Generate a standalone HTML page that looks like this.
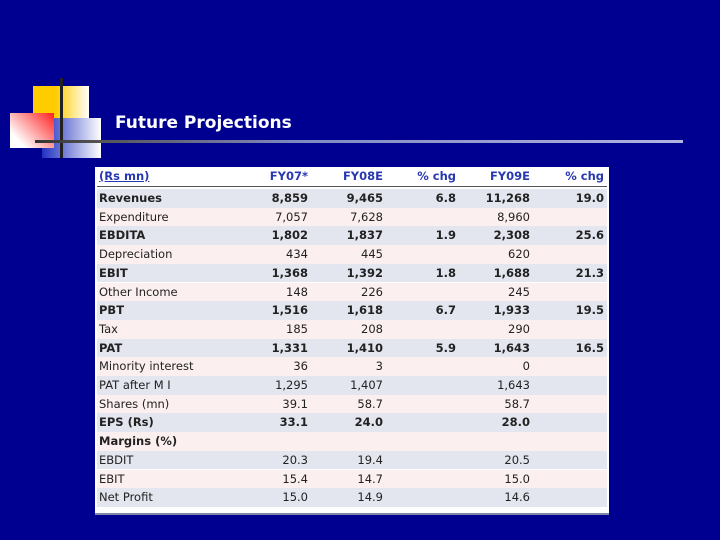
<!DOCTYPE html>
<html><head><meta charset="utf-8"><style>
body{margin:0;width:720px;height:540px;background:#000090;position:relative;overflow:hidden;font-family:"DejaVu Sans","Liberation Sans",sans-serif}
.abs{position:absolute}
#tbl{left:95px;top:167px;width:514px;height:346px;background:#fff;border-bottom:2px solid #8088a8}
.row{position:absolute;left:2px;width:510px;height:18.7px;font-size:11.5px;color:#222}
.row span{position:absolute;top:2px}
.num{text-align:right;width:70px}
</style></head><body>
<div class="abs" style="left:33px;top:86px;width:56px;height:40px;background:linear-gradient(90deg,#ffcc00 40%,#fff 100%)"></div>
<div class="abs" style="left:42px;top:118px;width:59px;height:40px;background:linear-gradient(90deg,#2030c0,#fff)"></div>
<div class="abs" style="left:10px;top:113px;width:44px;height:35px;background:linear-gradient(225deg,#ff2020,#fff 80%)"></div>
<div class="abs" style="left:60px;top:78px;width:3px;height:80px;background:#222"></div>
<div class="abs" style="left:35px;top:140px;width:648px;height:3px;background:linear-gradient(90deg,#333 0%,#555 10%,#8088c0 40%,#b0b4e0 100%)"></div>
<div class="abs" style="left:115px;top:113px;color:#fff;font-weight:bold;font-size:17px">Future Projections</div>
<div id="tbl" class="abs"></div>
<script>
const labels=["Revenues","Expenditure","EBDITA","Depreciation","EBIT","Other Income","PBT","Tax","PAT","Minority interest","PAT after M I","Shares (mn)","EPS (Rs)","Margins (%)","EBDIT","EBIT","Net Profit"];
const bold=[1,0,1,0,1,0,1,0,1,0,0,0,1,1,0,0,0];
const fy07=["8,859","7,057","1,802","434","1,368","148","1,516","185","1,331","36","1,295","39.1","33.1","","20.3","15.4","15.0"];
const fy08=["9,465","7,628","1,837","445","1,392","226","1,618","208","1,410","3","1,407","58.7","24.0","","19.4","14.7","14.9"];
const chg1=["6.8","","1.9","","1.8","","6.7","","5.9","","","","","","","",""];
const fy09=["11,268","8,960","2,308","620","1,688","245","1,933","290","1,643","0","1,643","58.7","28.0","","20.5","15.0","14.6"];
const chg2=["19.0","","25.6","","21.3","","19.5","","16.5","","","","","","","",""];
const headers=["FY07*","FY08E","% chg","FY09E","% chg"];
const colRight=[211,286,359,433,507];
const t=document.getElementById('tbl');
const h=document.createElement('div');
h.className='row';h.style.top='0px';h.style.height='19px';h.style.borderBottom='1px solid #555';h.style.color='#2838b0';h.style.fontWeight='bold';


let s=document.createElement('span');s.style.left='2px';s.style.textDecoration='underline';s.textContent='(Rs mn)';h.appendChild(s);
headers.forEach((x,i)=>{const e=document.createElement('span');e.className='num';e.style.left=(colRight[i]-70)+'px';e.textContent=x;h.appendChild(e);});
t.appendChild(h);
labels.forEach((lab,r)=>{
 const d=document.createElement('div');d.className='row';
 
 
 d.style.top=(22+r*18.7)+'px';d.style.background=r%2?'#fcefef':'#e3e6ef';
 if(bold[r])d.style.fontWeight='bold';
 const a=document.createElement('span');a.style.left='2px';a.textContent=lab;d.appendChild(a);
 [fy07,fy08,chg1,fy09,chg2].forEach((arr,i)=>{const e=document.createElement('span');e.className='num';e.style.left=(colRight[i]-70)+'px';e.textContent=arr[r];d.appendChild(e);});
 t.appendChild(d);
});
</script>
</body></html>
